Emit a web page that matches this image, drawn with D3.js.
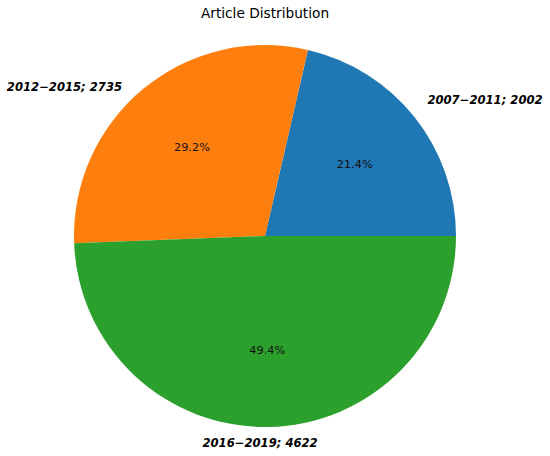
<!DOCTYPE html>
<html><head><meta charset="utf-8">
<script src="https://cdn.jsdelivr.net/npm/d3@7"></script>
<style>body{margin:0;background:#fff}svg{display:block}</style>
</head><body>
<svg id="c" width="550" height="456"></svg>
<script>
const categories = ["2007\u22122011", "2012\u22122015", "2016\u22122019"];
const values = [2002, 2735, 4622];
const colors = ["#1f77b4", "#ff7f0e", "#2ca02c"];
const title = "Article Distribution";

const svg = d3.select("#c");
const cx = 265, cy = 236, R = 191;
const font = "DejaVu Sans, sans-serif";
const total = d3.sum(values);

// matplotlib: start at 3 o'clock, counter-clockwise
const pie = d3.pie().sort(null).value(d => d)
  .startAngle(Math.PI / 2).endAngle(Math.PI / 2 - 2 * Math.PI);
const arcs = pie(values);
const arc = d3.arc().innerRadius(0).outerRadius(R);

const g = svg.append("g").attr("transform", `translate(${cx},${cy})`);
g.selectAll("path").data(arcs).join("path")
  .attr("d", arc).attr("fill", (d, i) => colors[i]);

// percentage labels at 0.6 R
const pctArc = d3.arc().innerRadius(R * 0.6).outerRadius(R * 0.6);
g.selectAll("text.pct").data(arcs).join("text").attr("class", "pct")
  .attr("x", d => pctArc.centroid(d)[0])
  .attr("y", d => pctArc.centroid(d)[1])
  .attr("text-anchor", "middle").attr("dominant-baseline", "central")
  .attr("font-family", font).attr("font-size", 11.3).attr("fill", "#111")
  .text(d => (d.value / total * 100).toFixed(1) + "%");

// outer labels
const labArc = d3.arc().innerRadius(R * 1.1).outerRadius(R * 1.1);
const anchors = ["start", "end", "middle"];
const adj = [[-2, -5], [-9, 13], [-9, -3]];
g.selectAll("text.lab").data(arcs).join("text").attr("class", "lab")
  .attr("x", (d, i) => labArc.centroid(d)[0] + adj[i][0])
  .attr("y", (d, i) => labArc.centroid(d)[1] + adj[i][1])
  .attr("text-anchor", (d, i) => anchors[i]).attr("dominant-baseline", "central")
  .attr("font-family", font).attr("font-size", 11.6)
  .attr("font-weight", "bold").attr("font-style", "italic").attr("fill", "#000")
  .text((d, i) => categories[i] + "; " + values[i]);

svg.append("text").attr("x", cx).attr("y", 18)
  .attr("text-anchor", "middle").attr("font-family", font)
  .attr("font-size", 13.7).attr("fill", "#000").text(title);
</script>
</body></html>
